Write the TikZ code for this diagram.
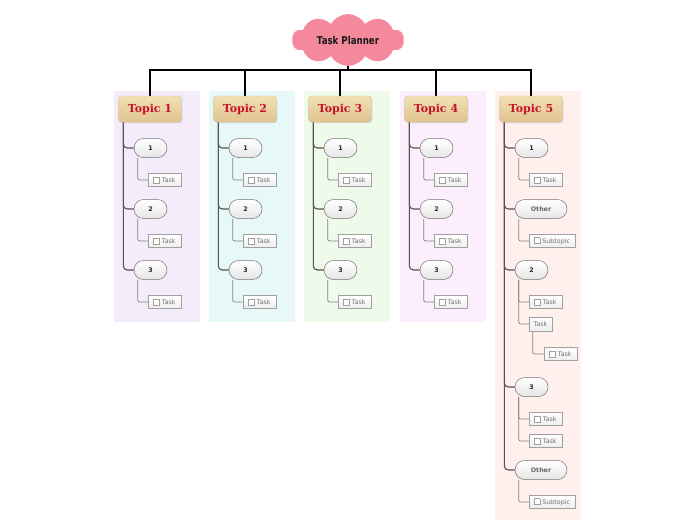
\documentclass[tikz,border=0pt]{standalone}
\usepackage{fontspec}
\setmainfont{DejaVu Sans}
\newfontfamily\topicfont{DejaVu Serif}
\newfontfamily\rootfont[FakeStretch=0.8]{DejaVu Sans}
\usetikzlibrary{shapes.symbols,shadows,backgrounds}
\definecolor{cloudpink}{HTML}{F3899B}
\definecolor{panelA}{HTML}{F4EBFB}
\definecolor{panelB}{HTML}{E7F8F8}
\definecolor{panelC}{HTML}{EEFBEA}
\definecolor{panelD}{HTML}{FCEEFC}
\definecolor{panelE}{HTML}{FFF0EE}
\definecolor{topictop}{HTML}{F2DFB4}
\definecolor{topicbot}{HTML}{E0C48E}
\definecolor{topicred}{HTML}{C8102E}
\definecolor{trunkgray}{HTML}{5A5050}
\definecolor{leafgray}{HTML}{8C7D75}
\definecolor{boxgray}{HTML}{A0A0A0}
\definecolor{textgray}{HTML}{707070}
\newcommand\chk{\textcolor{boxgray}{\fboxsep=0pt\fboxrule=0.5pt\fbox{\textcolor{white}{\rule{5.5pt}{5.5pt}}}}\hspace{2pt}}
\pgfdeclarelayer{panel}
\pgfsetlayers{panel,background,main}
\tikzset{
  panelbox/.style={draw=none,anchor=north west,inner sep=0pt,minimum width=86pt},
  topic/.style={draw=topicbot!80!black!60,line width=0.4pt,rounded corners=3pt,
    top color=topictop,bottom color=topicbot,minimum width=63pt,minimum height=26pt,
    inner sep=0pt,font=\topicfont\bfseries\fontsize{11}{13}\selectfont,text=topicred,
    drop shadow={shadow xshift=0.8pt,shadow yshift=-1pt,opacity=0.25}},
  pill/.style={draw=black!55,line width=0.5pt,rounded corners=9.5pt,top color=white,
    bottom color=black!10,minimum width=33pt,minimum height=19pt,inner sep=0pt,
    font=\bfseries\fontsize{6.3}{7}\selectfont,text=black!85},
  otherpill/.style={pill,minimum width=52pt,text=black!60},
  taskbox/.style={draw=boxgray,line width=0.5pt,top color=white,bottom color=black!7,
    minimum width=33pt,minimum height=13pt,inner sep=1pt,
    font=\fontsize{6.3}{7}\selectfont,text=textgray},
  subbox/.style={taskbox,minimum width=46pt},
  plainbox/.style={taskbox,minimum width=23pt,minimum height=14pt},
  bar/.style={draw=black,line width=1.2pt},
  trunk/.style={draw=trunkgray,line width=1.1pt,rounded corners=4pt},
  leaf/.style={draw=leafgray,line width=0.7pt,rounded corners=2pt},
}
\begin{document}
\begin{tikzpicture}[x=1pt,y=-1pt]
\useasboundingbox (0,0) rectangle (696,520);
% root
\node[cloud,cloud puffs=10,cloud puff arc=120,aspect=2.3,fill=cloudpink,draw=none,
  minimum width=112pt,minimum height=50pt,inner sep=0pt,
  font=\rootfont\bfseries\fontsize{10.8}{12}\selectfont,text=black!90] (root) at (348,40) {Task Planner};
\coordinate (hub) at (348,70);
% columns 1-4
\foreach \i/\L/\col in {1/114/panelA,2/209/panelB,3/304/panelC,4/400/panelD}{
  \begin{pgfonlayer}{panel}
    \node[panelbox,fill=\col,minimum height=231pt] (bg\i) at (\L,91) {};
  \end{pgfonlayer}
  \node[topic] (t\i) at (\L+36,109) {Topic \i};
  \foreach \j/\y in {1/148,2/209,3/270}{
    \node[pill] (p\i\j) at (\L+36.5,\y) {\j};
    \node[taskbox] (k\i\j) at (\L+50.5,\y+32) {\chk Task};
    \begin{pgfonlayer}{background}
      \draw[trunk] ([xshift=5pt]t\i.south west) |- (p\i\j.west);
      \draw[leaf] ([xshift=4pt]p\i\j.south west) |- (k\i\j.west);
    \end{pgfonlayer}
  }
}
% column 5
\begin{pgfonlayer}{panel}
  \node[panelbox,fill=panelE,minimum height=429pt] (bg5) at (495,91) {};
\end{pgfonlayer}
\node[topic] (t5) at (531,109) {Topic 5};
\node[pill] (p51) at (531.5,148) {1};
\node[taskbox] (k51) at (545.5,180) {\chk Task};
\node[otherpill] (po1) at (541,209) {Other};
\node[subbox] (s51) at (552,241) {\chk Subtopic};
\node[pill] (p52) at (531.5,270) {2};
\node[taskbox] (k52) at (545.5,302) {\chk Task};
\node[plainbox] (pt5) at (540.5,324) {Task};
\node[taskbox] (k53) at (560.5,354) {\chk Task};
\node[pill] (p53) at (531.5,387) {3};
\node[taskbox] (k54) at (545.5,419) {\chk Task};
\node[taskbox] (k55) at (545.5,441) {\chk Task};
\node[otherpill] (po2) at (541,470) {Other};
\node[subbox] (s52) at (552,502) {\chk Subtopic};
\begin{pgfonlayer}{background}
  \foreach \n in {p51,po1,p52,p53,po2}{
    \draw[trunk] ([xshift=5pt]t5.south west) |- (\n.west);
  }
  \draw[leaf] ([xshift=4pt]p51.south west) |- (k51.west);
  \draw[leaf] ([xshift=4pt]po1.south west) |- (s51.west);
  \draw[leaf] ([xshift=4pt]p52.south west) |- (k52.west);
  \draw[leaf] ([xshift=4pt]p52.south west) |- (pt5.west);
  \draw[leaf] ([xshift=4pt]pt5.south west) |- (k53.west);
  \draw[leaf] ([xshift=4pt]p53.south west) |- (k54.west);
  \draw[leaf] ([xshift=4pt]p53.south west) |- (k55.west);
  \draw[leaf] ([xshift=4pt]po2.south west) |- (s52.west);
  % main bar
  \draw[bar] (root.south) -- (hub);
  \foreach \i in {1,...,5}{
    \draw[bar] (hub) -| (t\i.north);
  }
\end{pgfonlayer}
\end{tikzpicture}
\end{document}
